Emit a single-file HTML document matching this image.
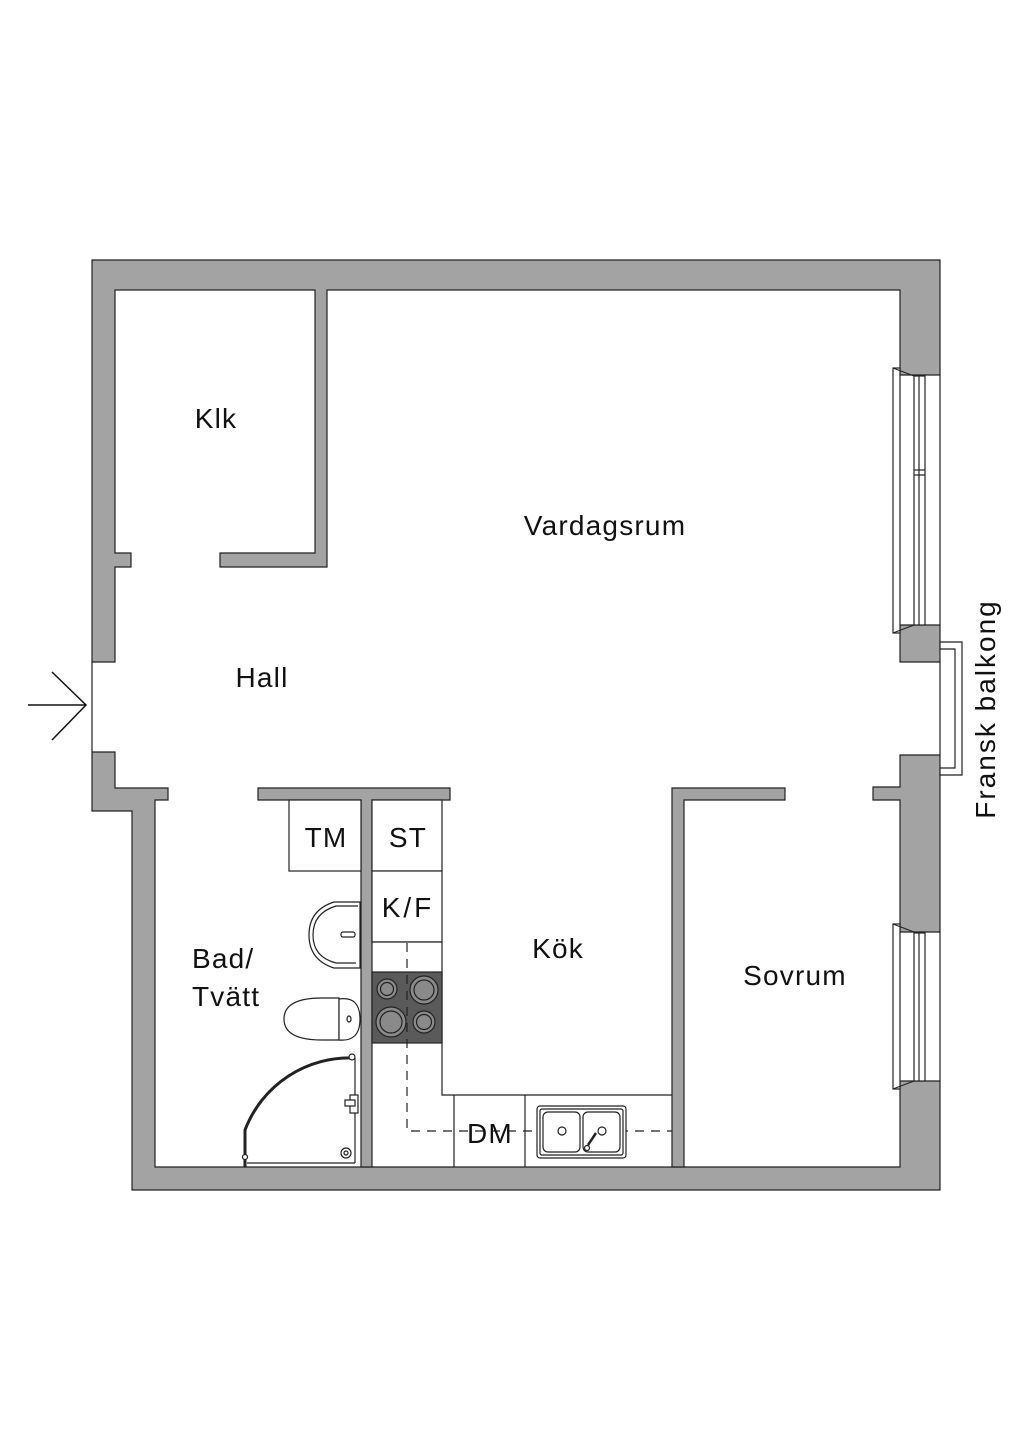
<!DOCTYPE html>
<html><head><style>html,body{margin:0;padding:0;background:#fff}svg{display:block}text{font-family:"Liberation Sans",sans-serif;fill:#111}</style></head><body>
<svg width="1024" height="1448" viewBox="0 0 1024 1448" xmlns="http://www.w3.org/2000/svg">
<g fill="#a3a3a3" stroke="#222" stroke-width="1.2">
<path d="M92,260 H940 V375 H900 V290 H327 V567 H220 V553 H315 V290 H115 V553 H131 V567 H115 V662 H92 Z"/>
<path d="M92,752 H115 V788 H168 V800 H155 V1167 H900 V1081 H940 V1190 H132 V811 H92 Z"/>
<path d="M900,625 H940 V662 H900 Z"/>
<path d="M900,755 H940 V932 H900 V800 H873 V787 H900 Z"/>
<path d="M258,788 H450 V800 H372 V1167 H361 V800 H258 Z"/>
<path d="M672,788 H785 V800 H684 V1167 H672 Z"/>
</g>
<g fill="#fff" stroke="#222" stroke-width="1.2">
<rect x="893" y="368" width="7" height="265"/>
<line x1="893" y1="368" x2="914" y2="376"/><line x1="893" y1="633" x2="914" y2="625"/>
<rect x="914" y="376" width="11" height="249"/>
<line x1="919" y1="376" x2="919" y2="625"/>
<line x1="914" y1="470" x2="925" y2="470"/><line x1="914" y1="475" x2="925" y2="475"/>
<line x1="940" y1="375" x2="940" y2="625"/>
<rect x="893" y="924" width="7" height="165"/>
<line x1="893" y1="924" x2="914" y2="932"/><line x1="893" y1="1089" x2="914" y2="1081"/>
<rect x="914" y="933" width="11" height="148"/>
<line x1="919" y1="933" x2="919" y2="1081"/>
<line x1="940" y1="932" x2="940" y2="1081"/>
<path d="M940,642 H962 V775 H940 V768 H955 V649 H940 Z"/>
<line x1="940" y1="662" x2="940" y2="755"/>
<line x1="92" y1="662" x2="92" y2="752"/>
<rect x="289" y="800" width="72" height="71"/>
<rect x="372" y="800" width="70" height="71"/>
<rect x="372" y="871" width="70" height="71"/>
<path d="M372,942 H442 V1095 H672 M454,1095 V1167 M525,1095 V1167"/>
<rect x="372" y="972" width="70" height="71" fill="#5a5a5a"/>
</g>
<g stroke="#222" stroke-width="1.2" fill="#8a8a8a">
<circle cx="387" cy="989" r="10"/><circle cx="387" cy="989" r="6.5"/>
<circle cx="424" cy="990" r="14"/><circle cx="424" cy="990" r="10"/>
<circle cx="391" cy="1022" r="15"/><circle cx="391" cy="1022" r="11"/>
<circle cx="424" cy="1022" r="11"/><circle cx="424" cy="1022" r="7.5"/>
</g>
<g stroke="#222" stroke-width="1.2" fill="none" stroke-dasharray="9,7">
<path d="M407,943 V1131 H672"/>
</g>
<g stroke="#222" stroke-width="1.2" fill="#fff">
<rect x="537" y="1106" width="89" height="52" rx="3"/>
<rect x="540" y="1109" width="83" height="46" rx="2"/>
<rect x="543" y="1112" width="37" height="40" rx="5"/>
<rect x="583" y="1112" width="37" height="40" rx="5"/>
<circle cx="562" cy="1131" r="4"/><circle cx="602" cy="1131" r="4"/>
<line x1="588" y1="1145" x2="596" y2="1133" stroke-width="2.5"/>
<circle cx="587" cy="1148" r="2.5"/>
</g>
<g stroke="#222" stroke-width="1.2" fill="#fff">
<path d="M360,902 H334 Q309,910 309,935 Q309,960 334,968 H360 Z"/>
<path d="M358,906 H336 Q313,913 313,935 Q313,957 336,963 H356" fill="none"/>
<rect x="341" y="932" width="14" height="5" rx="2"/>
<path d="M339,998 H322 Q284,998 284,1019 Q284,1040 322,1040 H339 Z"/>
<path d="M339,999 Q360,996 360,1019 Q360,1042 339,1040 Z"/>
<ellipse cx="349" cy="1019" rx="2" ry="3"/>
<path d="M245,1167 V1130 A112,112 0 0 1 355,1058" fill="none" stroke-width="3"/>
<line x1="355" y1="1058" x2="355" y2="1163"/><line x1="247" y1="1163" x2="355" y2="1163"/>
<circle cx="346" cy="1153" r="5"/><circle cx="346" cy="1153" r="2"/>
<rect x="350" y="1095" width="8" height="18"/>
<rect x="345" y="1100" width="10" height="6"/>
<circle cx="245" cy="1157" r="2.5"/><circle cx="352" cy="1057" r="3"/>
</g>
<g stroke="#111" stroke-width="1.5" fill="none">
<line x1="28" y1="705" x2="86" y2="705"/>
<polyline points="52,672 86,705 52,740"/>
</g>
<g font-size="28" letter-spacing="1.2">
<text x="216" y="428" text-anchor="middle">Klk</text>
<text x="605" y="535" text-anchor="middle">Vardagsrum</text>
<text x="262" y="687" text-anchor="middle">Hall</text>
<text x="192" y="968">Bad/</text>
<text x="192" y="1006">Tvätt</text>
<text x="558" y="958" text-anchor="middle">Kök</text>
<text x="795" y="985" text-anchor="middle">Sovrum</text>
<text x="326" y="847" text-anchor="middle">TM</text>
<text x="408" y="847" text-anchor="middle">ST</text>
<text x="408" y="917" text-anchor="middle" letter-spacing="3">K/F</text>
<text x="490" y="1143" text-anchor="middle">DM</text>
<text transform="translate(995,709) rotate(-90)" text-anchor="middle" letter-spacing="2">Fransk balkong</text>
</g>
</svg>
</body></html>
